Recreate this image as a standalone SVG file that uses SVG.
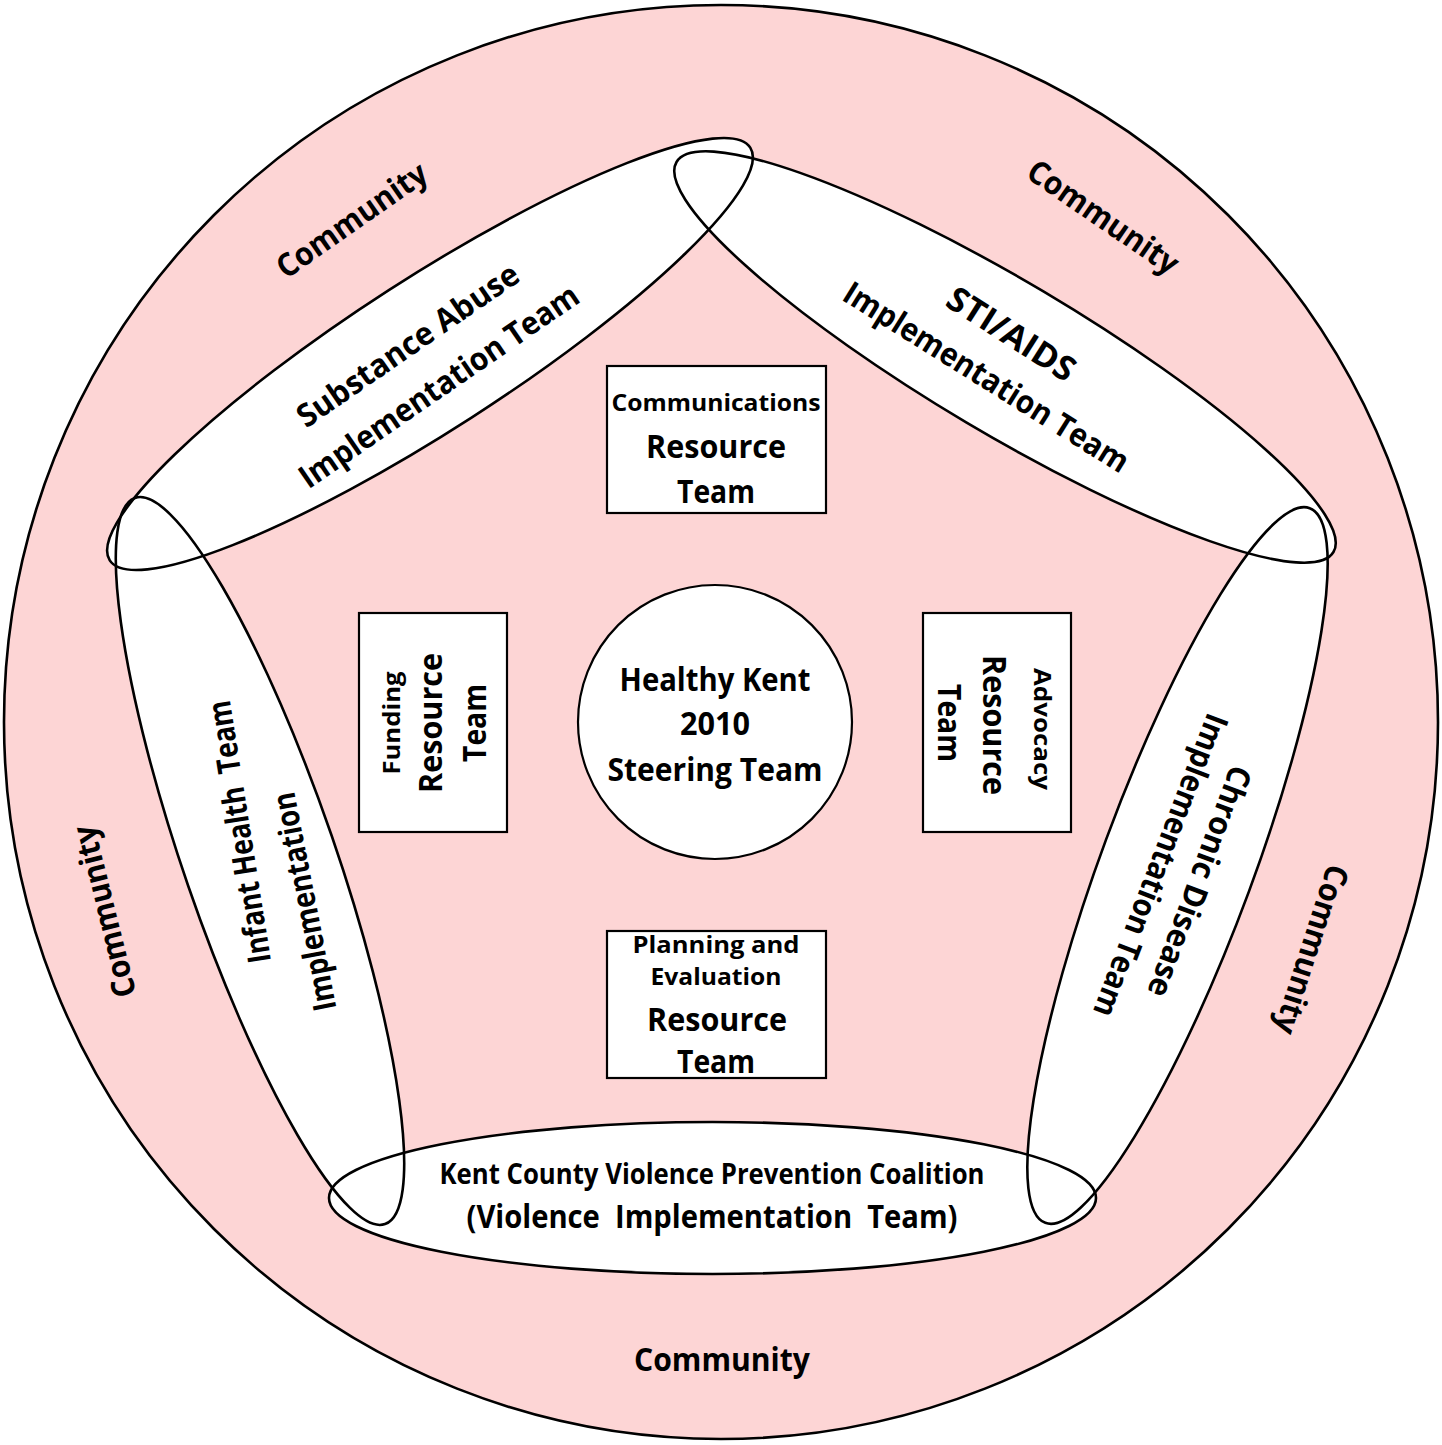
<svg xmlns="http://www.w3.org/2000/svg" width="1442" height="1445" viewBox="0 0 1442 1445">
<style>
text{font-family:"Open Sans","Noto Sans","DejaVu Sans",sans-serif;font-weight:700;fill:#000;text-anchor:middle;dominant-baseline:central;}
.big{font-size:32px;}
.mid{font-size:28px;}
.small{font-size:24px;}
.tiny{font-size:23px;}
.line{fill:none;stroke:#000;stroke-width:2.6;}
.box{fill:#fff;stroke:#000;stroke-width:2.2;}
.wfill{fill:#fff;stroke:none;}
</style>
<defs>
<ellipse id="e-sa" cx="430" cy="354" rx="381" ry="76" transform="rotate(-32.8 430 354)"/>
<ellipse id="e-sti" cx="1005" cy="357" rx="382" ry="76" transform="rotate(30.7 1005 357)"/>
<ellipse id="e-inf" cx="260" cy="861" rx="384" ry="76" transform="rotate(71 260 861)"/>
<ellipse id="e-chr" cx="1177.5" cy="865.5" rx="381" ry="76" transform="rotate(-69.7 1177.5 865.5)"/>
<ellipse id="e-vio" cx="712.5" cy="1198" rx="383.5" ry="76"/>
</defs>

<g id="community">
<circle cx="721" cy="722" r="717" fill="#fdd5d5" stroke="#000" stroke-width="2.6"/>
<text class="big" textLength="176" lengthAdjust="spacingAndGlyphs" transform="translate(722 1358)">Community</text>
<text class="big" textLength="176" lengthAdjust="spacingAndGlyphs" transform="translate(351 219) rotate(-35)">Community</text>
<text class="big" textLength="176" lengthAdjust="spacingAndGlyphs" transform="translate(1104 216) rotate(34.5)">Community</text>
<text class="big" textLength="176" lengthAdjust="spacingAndGlyphs" transform="translate(103 912) rotate(-104)">Community</text>
<text class="big" textLength="176" lengthAdjust="spacingAndGlyphs" transform="translate(1313 950) rotate(108)">Community</text>
</g>

<g id="team-fills">
<use href="#e-sa" class="wfill"/>
<use href="#e-sti" class="wfill"/>
<use href="#e-inf" class="wfill"/>
<use href="#e-chr" class="wfill"/>
<use href="#e-vio" class="wfill"/>
</g>

<g id="substance-abuse">
<use href="#e-sa" class="line"/>
<text class="big" textLength="262" lengthAdjust="spacingAndGlyphs" transform="translate(407 344) rotate(-34.6)">Substance Abuse</text>
<text class="big" textLength="332" lengthAdjust="spacingAndGlyphs" transform="translate(438 385) rotate(-34.6)">Implementation Team</text>
</g>

<g id="sti-aids">
<use href="#e-sti" class="line"/>
<text class="big" style="font-size:34px" textLength="145" lengthAdjust="spacingAndGlyphs" transform="translate(1012 333) rotate(32.5)">STI/AIDS</text>
<text class="big" textLength="330" lengthAdjust="spacingAndGlyphs" transform="translate(987 376) rotate(32)">Implementation Team</text>
</g>

<g id="infant-health">
<use href="#e-inf" class="line"/>
<text class="big" xml:space="preserve" textLength="265" lengthAdjust="spacingAndGlyphs" transform="translate(238 832) rotate(-99)">Infant Health  Team</text>
<text class="big" textLength="222" lengthAdjust="spacingAndGlyphs" transform="translate(303 902) rotate(-101)">Implementation</text>
</g>

<g id="chronic-disease">
<use href="#e-chr" class="line"/>
<text class="big" textLength="244" lengthAdjust="spacingAndGlyphs" transform="translate(1201 882) rotate(110.3)">Chronic Disease</text>
<text class="big" textLength="322" lengthAdjust="spacingAndGlyphs" transform="translate(1162 866) rotate(111)">Implementation Team</text>
</g>

<g id="violence">
<use href="#e-vio" class="line"/>
<text class="mid" textLength="545" lengthAdjust="spacingAndGlyphs" x="712" y="1173">Kent County Violence Prevention Coalition</text>
<text class="big" xml:space="preserve" textLength="491" lengthAdjust="spacingAndGlyphs" x="712" y="1215">(Violence  Implementation  Team)</text>
</g>

<g id="steering-team">
<circle cx="715" cy="722" r="137" class="box"/>
<text class="big" textLength="191" lengthAdjust="spacingAndGlyphs" x="715" y="678">Healthy Kent</text>
<text class="big" textLength="70" lengthAdjust="spacingAndGlyphs" x="715" y="722">2010</text>
<text class="big" textLength="215" lengthAdjust="spacingAndGlyphs" x="715" y="768">Steering Team</text>
</g>

<g id="communications">
<rect x="607" y="366" width="219" height="147" class="box"/>
<text class="small" textLength="209" lengthAdjust="spacingAndGlyphs" x="716" y="401">Communications</text>
<text class="big" textLength="140" lengthAdjust="spacingAndGlyphs" x="716" y="445">Resource</text>
<text class="big" textLength="78" lengthAdjust="spacingAndGlyphs" x="716" y="490">Team</text>
</g>

<g id="funding">
<rect x="359" y="613" width="148" height="219" class="box"/>
<text class="small" textLength="103" lengthAdjust="spacingAndGlyphs" transform="translate(390 723) rotate(-90)">Funding</text>
<text class="big" textLength="140" lengthAdjust="spacingAndGlyphs" transform="translate(429 723) rotate(-90)">Resource</text>
<text class="big" textLength="78" lengthAdjust="spacingAndGlyphs" transform="translate(473 723) rotate(-90)">Team</text>
</g>

<g id="advocacy">
<rect x="923" y="613" width="148" height="219" class="box"/>
<text class="small" textLength="122" lengthAdjust="spacingAndGlyphs" transform="translate(1043 729) rotate(90)">Advocacy</text>
<text class="big" textLength="140" lengthAdjust="spacingAndGlyphs" transform="translate(995 725) rotate(90)">Resource</text>
<text class="big" textLength="78" lengthAdjust="spacingAndGlyphs" transform="translate(950 723) rotate(90)">Team</text>
</g>

<g id="planning">
<rect x="607" y="931" width="219" height="147" class="box"/>
<text class="tiny" textLength="167" lengthAdjust="spacingAndGlyphs" x="716" y="944">Planning and</text>
<text class="tiny" textLength="131" lengthAdjust="spacingAndGlyphs" x="716" y="976">Evaluation</text>
<text class="big" textLength="140" lengthAdjust="spacingAndGlyphs" x="717" y="1018">Resource</text>
<text class="big" textLength="78" lengthAdjust="spacingAndGlyphs" x="716" y="1060">Team</text>
</g>

<g id="connectors"></g>
</svg>
